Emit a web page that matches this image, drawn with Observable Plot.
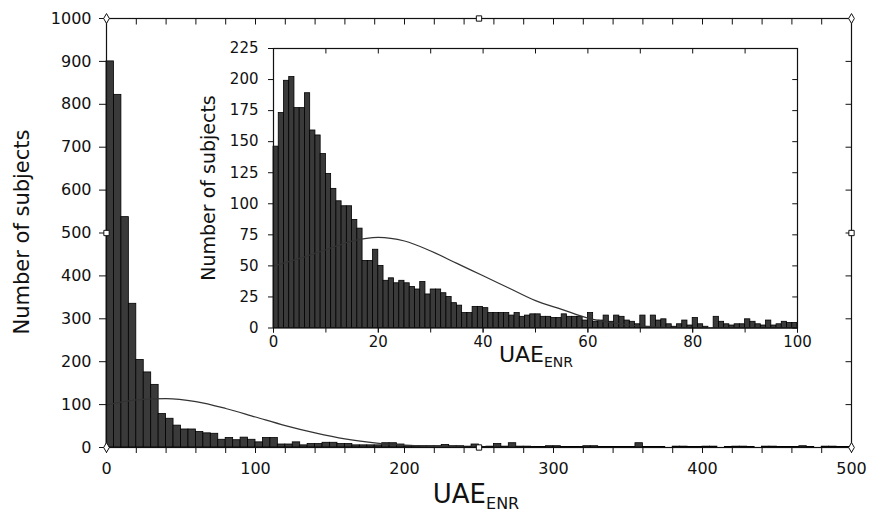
<!DOCTYPE html>
<html><head><meta charset="utf-8">
<script src="https://cdn.jsdelivr.net/npm/d3@7"></script>
<script src="https://cdn.jsdelivr.net/npm/@observablehq/plot@0.6"></script>
<style>
body{margin:0;background:#fff;}
#wrap{position:relative;width:869px;height:525px;}
#inset{position:absolute;left:190px;top:38px;}
svg{overflow:visible;}
</style></head><body>
<div id="wrap"><div id="main"></div><div id="inset"></div></div>
<script>
// ---------- data ----------
const mainBinWidth = 5;               // UAE_ENR bin width, main histogram (0–500)
const mainCounts = [
  900,822,537,335,204,175,146,78,67,51,
  42,42,36,33,32,18,22,17,23,18,
  12,22,22,7,7,12,5,8,8,11,
  11,8,8,5,5,5,5,10,10,7,
  3,3,3,3,3,6,3,3,2,7,
  1,2,8,2,10,2,2,1,1,3,
  3,1,1,1,3,3,1,1,1,1,
  1,10,1,1,1,0,2,2,1,1,
  2,2,0,1,2,2,1,0,2,2,
  1,1,1,3,1,0,2,2,1,1
];
const mainCurveX = [0,20,40,60,80,100,120,140,160,180,200,220,240,260,280,300,500];
const mainCurveY = [99,111,114,107,91,71,51,34,20,11,5.5,2.5,1,0.4,0.1,0,0];
const mainXTicks = [0,100,200,300,400,500];
const mainYTicks = [0,100,200,300,400,500,600,700,800,900,1000];

const insetBinWidth = 1;              // UAE_ENR bin width, inset histogram (0–100)
const insetCounts = [
  146,173,199,202,177,177,189,159,155,140,
  124,112,102,98,98,87,80,54,54,63,
  50,38,40,36,38,36,33,31,37,27,
  31,31,28,25,20,18,12,12,17,17,
  16,12,12,12,12,10,12,9,10,11,
  11,9,9,8,8,11,9,9,9,6,
  12,5,6,10,5,10,9,6,5,3,
  10,1,10,6,7,3,1,3,6,2,
  8,3,1,0,9,5,3,2,3,3,
  7,5,3,2,6,2,3,5,4,4
];
const insetCurveX = [0,5,10,15,20,25,30,35,40,45,50,55,60,65,70,75,80,90,100];
const insetCurveY = [50,56,63,70,73,70,62,52,42,32,22,15,8,4,1.5,0.5,0.1,0,0];
const insetXTicks = [0,20,40,60,80,100];
const insetYTicks = [0,25,50,75,100,125,150,175,200,225];

const yTitle = "Number of subjects";
const xTitleMain = "UAE", xTitleSub = "ENR";

// ---------- tables ----------
const mainBars = mainCounts.map((c,i)=>({x1:i*mainBinWidth, x2:(i+1)*mainBinWidth, y:c}));
const mainCurve = mainCurveX.map((x,i)=>({x, y:mainCurveY[i]}));
const insetBars = insetCounts.map((c,i)=>({x1:i*insetBinWidth, x2:(i+1)*insetBinWidth, y:c}));
const insetCurve = insetCurveX.map((x,i)=>({x, y:insetCurveY[i]}));
const mainMinorX = d3.range(0, 501, 20);
const insetMinorX = d3.range(0, 101, 10);
const mainTop = mainMinorX.map(x => ({x, y1: 1000, y2: 986}));
const mainRight = mainYTicks.map(y => ({y, x1: 500, x2: 496}));
const insetTop = insetMinorX.map(x => ({x, y1: 225, y2: 221}));
const insetRight = insetYTicks.map(y => ({y, x1: 100, x2: 99}));
const mainHandles = [
  {x:0,y:0,s:"diamond"},{x:500,y:0,s:"diamond"},{x:0,y:1000,s:"diamond"},{x:500,y:1000,s:"diamond"},
  {x:0,y:500,s:"square"},{x:500,y:500,s:"square"},{x:250,y:0,s:"square"},{x:250,y:1000,s:"square"}
];
const FONT = "DejaVu Sans";
const none = () => "";
const plain = d => String(d);

// ---------- main chart ----------
const main = Plot.plot({
  width: 869, height: 525,
  marginLeft: 106, marginRight: 18, marginTop: 18, marginBottom: 78,
  x: {domain: [0, 500], label: null},
  y: {domain: [0, 1000], label: null},
  style: {fontFamily: FONT, fontSize: "16px", color: "#111", background: "transparent"},
  marks: [
    Plot.rectY(mainBars, {x1: "x1", x2: "x2", y: "y", fill: "#3a3a3a", stroke: "#000", strokeWidth: 0.8}),
    Plot.line(mainCurve, {x: "x", y: "y", curve: "monotone-x", stroke: "#333", strokeWidth: 1.2}),
    Plot.frame({stroke: "#111", strokeWidth: 1.2}),
    Plot.axisX(mainMinorX, {anchor: "bottom", tickSize: 6, tickFormat: none, label: null, stroke: "#111"}),
    Plot.axisX(mainXTicks, {anchor: "bottom", tickSize: 6, tickPadding: 9, tickFormat: plain, label: null, stroke: "#111", fontSize: 16}),
    Plot.axisY(mainYTicks, {anchor: "left", tickSize: 7, tickPadding: 8, tickFormat: plain, label: null, stroke: "#111", fontSize: 16}),
    // inward ticks on the top and right edges
    Plot.link(mainTop, {x1: "x", x2: "x", y1: "y1", y2: "y2", stroke: "#111", strokeWidth: 1}),
    Plot.link(mainRight, {y1: "y", y2: "y", x1: "x1", x2: "x2", stroke: "#111", strokeWidth: 1}),
    Plot.dot(mainHandles, {x: "x", y: "y", symbol: "s", r: 3, fill: "white", stroke: "#111", strokeWidth: 1})
  ]
});
document.getElementById("main").appendChild(main);

const ms = d3.select(main);
ms.append("text")
  .attr("transform", "translate(22,232) rotate(-90)")
  .attr("text-anchor", "middle").attr("dominant-baseline", "central")
  .attr("font-family", FONT).attr("font-size", 21).attr("fill", "#111")
  .text(yTitle);
const mx = ms.append("text")
  .attr("x", 476).attr("y", 503).attr("text-anchor", "middle")
  .attr("font-family", FONT).attr("font-size", 26).attr("fill", "#111");
mx.append("tspan").text(xTitleMain);
mx.append("tspan").attr("font-size", 16).attr("dy", 6).text(xTitleSub);

// ---------- inset chart ----------
const inset = Plot.plot({
  width: 620, height: 335,
  marginLeft: 83, marginRight: 13, marginTop: 10, marginBottom: 45.5,
  x: {domain: [0, 100], label: null},
  y: {domain: [0, 225], label: null},
  style: {fontFamily: FONT, fontSize: "15px", color: "#111", background: "transparent"},
  marks: [
    Plot.rectY(insetBars, {x1: "x1", x2: "x2", y: "y", fill: "#3a3a3a", stroke: "#000", strokeWidth: 0.8}),
    Plot.line(insetCurve, {x: "x", y: "y", curve: "monotone-x", stroke: "#333", strokeWidth: 1.2}),
    Plot.frame({stroke: "#111", strokeWidth: 1.2}),
    Plot.axisX(insetMinorX, {anchor: "bottom", tickSize: 5, tickFormat: none, label: null, stroke: "#111"}),
    Plot.axisX(insetXTicks, {anchor: "bottom", tickSize: 5, tickPadding: 3, tickFormat: plain, label: null, stroke: "#111", fontSize: 15}),
    Plot.axisY(insetYTicks, {anchor: "left", tickSize: 5, tickPadding: 10, tickFormat: plain, label: null, stroke: "#111", fontSize: 15}),
    // inward ticks on the top and right edges
    Plot.link(insetTop, {x1: "x", x2: "x", y1: "y1", y2: "y2", stroke: "#111", strokeWidth: 1}),
    Plot.link(insetRight, {y1: "y", y2: "y", x1: "x1", x2: "x2", stroke: "#111", strokeWidth: 1})
  ]
});
document.getElementById("inset").appendChild(inset);

const is = d3.select(inset);
is.append("text")
  .attr("transform", "translate(18,150) rotate(-90)")
  .attr("text-anchor", "middle").attr("dominant-baseline", "central")
  .attr("font-family", FONT).attr("font-size", 19).attr("fill", "#111")
  .text(yTitle);
const ix = is.append("text")
  .attr("x", 346).attr("y", 324).attr("text-anchor", "middle")
  .attr("font-family", FONT).attr("font-size", 22).attr("fill", "#111");
ix.append("tspan").text(xTitleMain);
ix.append("tspan").attr("font-size", 14).attr("dy", 5).text(xTitleSub);
</script>
</body></html>
